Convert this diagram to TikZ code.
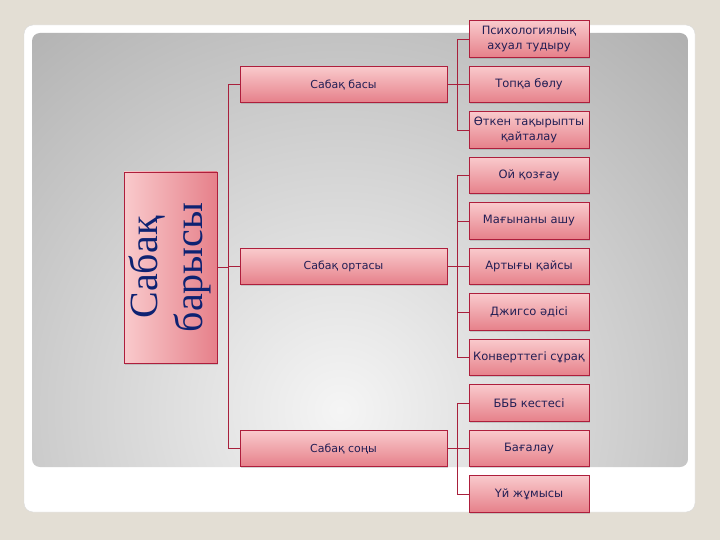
\documentclass[tikz,border=0pt]{standalone}
\usepackage{fontspec}
\usepackage{graphicx}
\setmainfont{DejaVu Sans}
\newfontfamily\rootfont{Liberation Serif}
\usepackage{tikz}
\usetikzlibrary{shapes,arrows,positioning,calc,shadows}

\definecolor{pageBg}{HTML}{E3DED4}
\definecolor{panelLight}{HTML}{F5F5F5}
\definecolor{panelDark}{HTML}{9C9C9C}
\definecolor{pinkTop}{HTML}{F9CACC}
\definecolor{pinkBot}{HTML}{E6808A}
\definecolor{boxRim}{HTML}{AE1E3C}
\definecolor{lineRed}{HTML}{A8203C}
\definecolor{inkBlue}{HTML}{231F55}
\definecolor{rootBlue}{HTML}{0E2272}

\begin{document}
\begin{tikzpicture}[x=1pt,y=-1pt,
    box/.style={draw=boxRim, line width=0.8pt, top color=pinkTop, bottom color=pinkBot,
                text=inkBlue, align=center, inner sep=1pt,
                drop shadow={shadow xshift=1pt, shadow yshift=-1.5pt, opacity=0.3}},
    phase/.style={box, minimum width=207pt, minimum height=36pt, font=\fontsize{11}{13}\selectfont},
    leaf/.style={box, minimum width=120pt, minimum height=36.5pt, font=\fontsize{11.5}{15}\selectfont},
    conn/.style={draw=lineRed, line width=0.7pt}]

    % slide background
    \fill[pageBg] (0,0) rectangle (720,540);
    \draw[gray!30, fill=white, rounded corners=9pt] (24,25) rectangle (695,512);
    \begin{scope}
        \clip[rounded corners=8pt] (32,33) rectangle (688,467);
        \shade[inner color=panelLight, outer color=panelDark] (340,410) circle (660);
    \end{scope}

    % root and phases
    \node[box, minimum width=93pt, minimum height=191pt, left color=pinkTop, right color=pinkBot,
          text=rootBlue, font=\rootfont\fontsize{40}{45}\selectfont] (root) at (170.5,267.5)
        {\rotatebox{90}{\setlength{\tabcolsep}{0pt}\begin{tabular}{c}Сабақ\\барысы\end{tabular}}};
    \node[phase] (p1) at (343.5,84.5) {Сабақ басы};
    \node[phase] (p2) at (343.5,266.5) {Сабақ ортасы};
    \node[phase] (p3) at (343.5,448.5) {Сабақ соңы};

    \coordinate (trunk) at ($(root.east)+(11,0)$);
    \draw[conn] (root.east) -- (trunk);
    \foreach \g in {1,2,3} {
        \draw[conn] (p\g.west) -| (trunk);
        \coordinate (j\g) at ($(p\g.east)+(10,0)$);
        \draw[conn] (p\g.east) -- (j\g);
    }

    % steps of each phase
    \foreach \i/\g/\t in {1/1/{Психологиялық\\ахуал тудыру}, 2/1/Топқа бөлу,
                          3/1/{Өткен тақырыпты\\қайталау}, 4/2/Ой қозғау,
                          5/2/Мағынаны ашу, 6/2/Артығы қайсы, 7/2/Джигсо әдісі,
                          8/2/Конверттегі сұрақ, 9/3/БББ кестесі, 10/3/Бағалау,
                          11/3/Үй жұмысы} {
        \node[leaf] (l\i) at (529,{39+45.5*(\i-1)}) {\t};
        \draw[conn] (l\i.west) -| (j\g);
    }
\end{tikzpicture}
\end{document}
